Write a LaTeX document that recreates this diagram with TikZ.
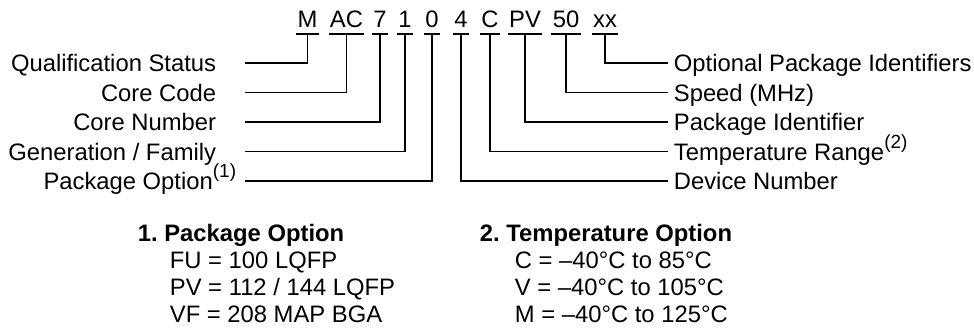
\documentclass[tikz,border=0pt]{standalone}
\usepackage{fontspec}
\setmainfont{Liberation Sans}
\newcommand{\partfont}{\fontsize{23.8}{28}\selectfont}
\newcommand{\notemark}[1]{\raisebox{12pt}{\fontsize{19}{21}\selectfont(#1)}}
\begin{document}
\begin{tikzpicture}[x=1pt,y=-1pt,line width=1.8pt,
    every node/.style={font=\partfont},
    code/.style={anchor=base, inner xsep=0.5pt, inner ysep=5pt, text depth=0pt},
    lft/.style={anchor=east, inner xsep=28pt, inner ysep=0pt, text height=17pt, text depth=0pt},
    rgt/.style={anchor=west, inner xsep=5pt, inner ysep=0pt, text height=17pt, text depth=0pt},
    opt/.style={anchor=base west, inner sep=0pt},
    opthead/.style={opt, font=\partfont\bfseries}]
  \useasboundingbox (0,0) rectangle (974,329);
  % part number fields
  \node[code] (cM)  at (307.5,28) {M};
  \node[code] (cAC) at (346.5,28) {AC};
  \node[code] (c7)  at (380,28) {7};
  \node[code] (c1)  at (405,28) {1};
  \node[code] (c0)  at (432,28) {0};
  \node[code] (c4)  at (461,28) {4};
  \node[code] (cC)  at (490,28) {C};
  \node[code] (cPV) at (525,28) {PV};
  \node[code] (c50) at (566,28) {50};
  \node[code] (cxx) at (605,28) {xx};
  \foreach \n in {cM,cAC,c7,c1,c0,c4,cC,cPV,c50,cxx}
    \draw (\n.south west) -- (\n.south east);
  % labels on the left
  \node[lft] (qs) at (245,63) {Qualification Status};
  \node[lft] (cc) at (245,92.5) {Core Code};
  \node[lft] (cn) at (245,122) {Core Number};
  \node[lft] (gf) at (245,151.5) {Generation / Family};
  \node[lft,inner xsep=8pt] (po) at (245,181) {Package Option\notemark{1}};
  % labels on the right
  \node[rgt] (op) at (668,63) {Optional Package Identifiers};
  \node[rgt] (sp) at (668,92.5) {Speed (MHz)};
  \node[rgt] (pi) at (668,122) {Package Identifier};
  \node[rgt] (tr) at (668,151.5) {Temperature Range\notemark{2}};
  \node[rgt] (dn) at (668,181) {Device Number};
  \draw (cM.south) |- (qs.east);
  \draw (cAC.south) |- (cc.east);
  \draw (c7.south) |- (cn.east);
  \draw (c1.south) |- (gf.east);
  \draw (c0.south) |- (po.east);
  \draw (c4.south) |- (dn.west);
  \draw (cC.south) |- (tr.west);
  \draw (cPV.south) |- (pi.west);
  \draw (c50.south) |- (sp.west);
  \draw (cxx.south) |- (op.west);
  % notes
  \node[opthead] (h1) at (137,241) {1.\ Package Option};
  \node[opt] (fu) at (169,268) {FU = 100 LQFP};
  \node[opt] (pv) at (169,295) {PV = 112 / 144 LQFP};
  \node[opt] (vf) at (169,322) {VF = 208 MAP BGA};
  \node[opthead] (h2) at (479,241) {2.\ Temperature Option};
  \node[opt] (tc) at (514,268) {C = –40°C to 85°C};
  \node[opt] (tv) at (514,295) {V = –40°C to 105°C};
  \node[opt] (tm) at (514,322) {M = –40°C to 125°C};
\end{tikzpicture}
\end{document}
